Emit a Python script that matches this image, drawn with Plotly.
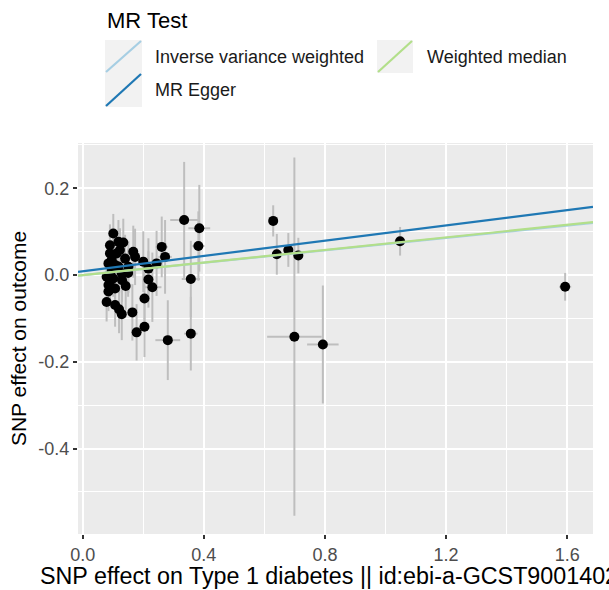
import plotly.graph_objects as go

# ---- data: SNP effects (exposure = Type 1 diabetes, outcome) ----
bx = [0.101, 0.118, 0.134, 0.090, 0.123, 0.090, 0.140, 0.085, 0.107, 0.118,
      0.096, 0.151, 0.129, 0.079, 0.101, 0.090, 0.085, 0.107, 0.142, 0.085,
      0.079, 0.107, 0.120, 0.129, 0.164, 0.167, 0.173, 0.200, 0.261, 0.272,
      0.244, 0.217, 0.217, 0.230, 0.204, 0.204, 0.178, 0.281, 0.335, 0.385,
      0.382, 0.357, 0.357, 0.629, 0.641, 0.679, 0.712, 0.699, 0.793, 1.048,
      1.593, 0.096, 0.112, 0.130, 0.150]
by = [0.096, 0.077, 0.075, 0.069, 0.058, 0.050, 0.038, 0.027, 0.023, 0.020,
      0.012, 0.019, 0.004, -0.004, -0.008, -0.015, -0.023, -0.031, -0.025, -0.038,
      -0.062, -0.069, -0.079, -0.090, -0.086, 0.054, 0.042, 0.031, 0.065, 0.042,
      0.027, 0.015, -0.010, -0.028, -0.054, -0.119, -0.132, -0.150, 0.127, 0.108,
      0.067, -0.009, -0.135, 0.125, 0.048, 0.058, 0.045, -0.142, -0.160, 0.078,
      -0.027, 0.035, 0.050, -0.012, 0.005]
se_x = [0.012, 0.012, 0.013, 0.010, 0.012, 0.010, 0.013, 0.010, 0.011, 0.011,
        0.010, 0.014, 0.012, 0.009, 0.010, 0.010, 0.009, 0.011, 0.013, 0.009,
        0.009, 0.011, 0.012, 0.012, 0.014, 0.014, 0.015, 0.016, 0.020, 0.022,
        0.018, 0.017, 0.017, 0.030, 0.016, 0.016, 0.015, 0.041, 0.046, 0.036,
        0.020, 0.030, 0.022, 0.015, 0.015, 0.016, 0.016, 0.090, 0.052, 0.018,
        0.020, 0.010, 0.011, 0.012, 0.013]
se_y = [0.045, 0.050, 0.055, 0.048, 0.050, 0.040, 0.055, 0.045, 0.040, 0.045,
        0.040, 0.060, 0.045, 0.040, 0.042, 0.040, 0.045, 0.048, 0.055, 0.045,
        0.045, 0.050, 0.055, 0.060, 0.065, 0.060, 0.065, 0.070, 0.070, 0.085,
        0.075, 0.070, 0.065, 0.080, 0.070, 0.070, 0.065, 0.092, 0.134, 0.100,
        0.080, 0.088, 0.085, 0.036, 0.047, 0.039, 0.041, 0.413, 0.136, 0.033,
        0.032, 0.045, 0.050, 0.050, 0.055]

# ---- MR estimates (lines) ----
methods = ["Inverse variance weighted", "MR Egger", "Weighted median"]
intercepts = [0.0, 0.009, 0.0]
slopes = [0.0715, 0.088, 0.0725]
colors = ["#A6CEE3", "#1F78B4", "#B2DF8A"]

x_range = [-0.0155, 1.685]
y_range = [-0.597, 0.3046]
x_ticks = [0.0, 0.4, 0.8, 1.2, 1.6]
x_ticklabels = ["0.0", "0.4", "0.8", "1.2", "1.6"]
y_ticks = [-0.4, -0.2, 0.0, 0.2]
y_ticklabels = ["-0.4", "-0.2", "0.0", "0.2"]
x_title = "SNP effect on Type 1 diabetes || id:ebi-a-GCST90014023"
y_title = "SNP effect on outcome"

FONT = "Liberation Sans, Arial, Helvetica, sans-serif"
W, H = 609, 590
L, R, T, B = 78, 16, 143, 56
PW, PH = W - L - R, H - T - B


def px(xp):
    return (xp - L) / PW


def py(yp):
    return (H - B - yp) / PH


fig = go.Figure()

fig.add_trace(go.Scatter(
    x=bx, y=by, mode="markers",
    marker=dict(color="black", size=10, line=dict(width=0)),
    error_x=dict(type="data", array=se_x, color="#BEBEBE", thickness=2, width=0),
    error_y=dict(type="data", array=se_y, color="#BEBEBE", thickness=2, width=0),
    showlegend=False, hoverinfo="x+y",
))

for name, a, b, c in zip(methods, intercepts, slopes, colors):
    fig.add_trace(go.Scatter(
        x=x_range, y=[a + b * x_range[0], a + b * x_range[1]],
        mode="lines", line=dict(color=c, width=2.2), name=name, showlegend=False,
    ))

# ---- manual ggplot-style legend ----
shapes = []
annotations = []
annotations.append(dict(text="MR Test", x=px(105), y=py(21), xref="paper", yref="paper",
                        xanchor="left", yanchor="middle", showarrow=False,
                        font=dict(family=FONT, size=22, color="black")))
keys = [  # (left, top, right, bottom) pixel boxes, text x
    (105, 40, 142, 73, 153),
    (105, 73, 142, 107, 153),
    (377, 40, 413, 73, 425),
]
for (x0, y0, x1, y1, tx), name, c in zip(keys, methods, colors):
    shapes.append(dict(type="rect", xref="paper", yref="paper",
                       x0=px(x0), x1=px(x1), y0=py(y1), y1=py(y0),
                       fillcolor="#F2F2F2", line=dict(width=0), layer="below"))
    shapes.append(dict(type="line", xref="paper", yref="paper",
                       x0=px(x0 + 1), x1=px(x1 - 1), y0=py(y1 - 1), y1=py(y0 + 1),
                       line=dict(color=c, width=2.2)))
    annotations.append(dict(text=name, x=px(tx), y=py((y0 + y1) / 2), xref="paper",
                            yref="paper", xanchor="left", yanchor="middle",
                            showarrow=False,
                            font=dict(family=FONT, size=18, color="#1A1A1A")))

# x-axis title (centred on the panel, overflowing on the right as in the original)
annotations.append(dict(text=x_title, x=0.5, y=py(576), xref="paper", yref="paper",
                        xanchor="center", yanchor="middle", showarrow=False,
                        font=dict(family=FONT, size=23.3, color="black")))

fig.update_layout(
    width=W, height=H,
    margin=dict(l=L, r=R, t=T, b=B, pad=0, autoexpand=False),
    paper_bgcolor="white", plot_bgcolor="#EBEBEB",
    font=dict(family=FONT, size=18, color="#4D4D4D"),
    shapes=shapes, annotations=annotations,
    showlegend=False,
    xaxis=dict(
        range=x_range, tickvals=x_ticks, ticktext=x_ticklabels,
        showgrid=True, gridcolor="white", gridwidth=2, zeroline=False,
        ticks="outside", ticklen=4, tickwidth=1.5, tickcolor="#333333",
        tickfont=dict(family=FONT, size=18, color="#4D4D4D"),
        minor=dict(tickvals=[0.2, 0.6, 1.0, 1.4], showgrid=True,
                   gridcolor="white", gridwidth=1, ticks=""),
        showline=False, automargin=False,
    ),
    yaxis=dict(
        range=y_range, tickvals=y_ticks, ticktext=y_ticklabels,
        showgrid=True, gridcolor="white", gridwidth=2, zeroline=False,
        ticks="outside", ticklen=4, tickwidth=1.5, tickcolor="#333333",
        tickfont=dict(family=FONT, size=18, color="#4D4D4D"),
        minor=dict(tickvals=[-0.5, -0.3, -0.1, 0.1, 0.3], showgrid=True,
                   gridcolor="white", gridwidth=1, ticks=""),
        showline=False, automargin=False,
        title=dict(text=y_title,
                   font=dict(family=FONT, size=21, color="black"), standoff=6),
    ),
)

fig.write_html("out.html")
